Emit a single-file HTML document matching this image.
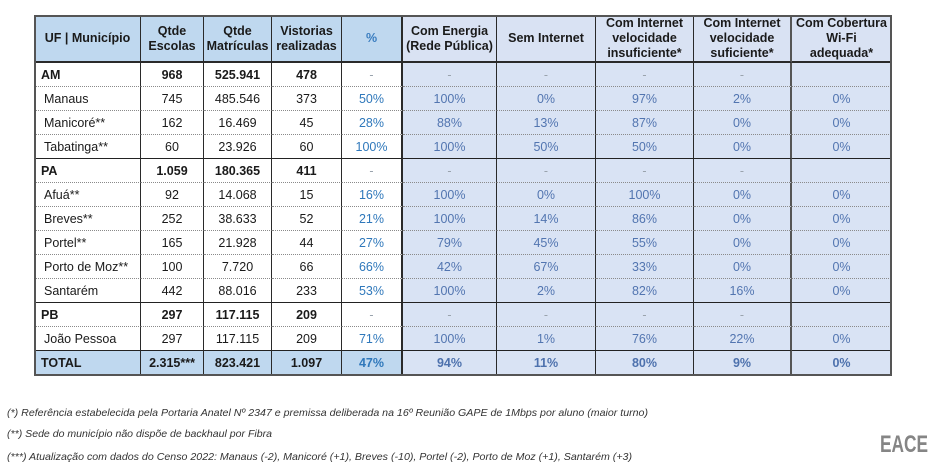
<!DOCTYPE html>
<html><head><meta charset="utf-8">
<style>
html,body{margin:0;padding:0;background:#fff;}
body{width:933px;height:470px;position:relative;overflow:hidden;font-family:"Liberation Sans",Arial,sans-serif;}
.g{position:absolute;left:35px;top:16px;display:grid;
grid-template-columns:106px 63px 68px 70px 61px 94px 99px 98px 98px 99px;
grid-template-rows:47px repeat(13,24px);}
.g>div{box-sizing:border-box;border-right:1px solid #2a2a2a;border-bottom:1px dotted #8a8a8a;display:flex;align-items:center;justify-content:center;font-size:12.5px;color:#1a1a1a;white-space:nowrap;}
.g>div.h{border-bottom:2px solid #2a2a2a;font-weight:bold;text-align:center;line-height:15px;white-space:normal;font-size:12.5px;}
.hl{background:#bfd8ef;}
.hr{background:#d9e2f3;}
.r{background:#d9e3f4;color:#5275b0 !important;}
.p{color:#2f78bb !important;}
.d{color:#9aa3ad !important;}
.l{justify-content:flex-start !important;padding-left:9px;}
.l0{justify-content:flex-start !important;padding-left:6px;}
.b{font-weight:bold;}
.s{border-bottom:1px solid #222 !important;}
.t{background:#bfd8ef;font-weight:bold;border-bottom:none !important;}
.tr{background:#d9e3f4;font-weight:bold;color:#4d71ad !important;border-bottom:none !important;}
.c5{border-right:2px solid #2a2a2a !important;}
.c9{border-right:2px solid #555 !important;}
.c10{border-right:none !important;}
.frame{position:absolute;left:34px;top:15px;width:854px;height:357px;border:2px solid #555;}
</style></head><body>
<div class="g">
<div class="h hl">UF | Município</div>
<div class="h hl">Qtde<br>Escolas</div>
<div class="h hl">Qtde<br>Matrículas</div>
<div class="h hl">Vistorias<br>realizadas</div>
<div class="h hl c5" style="color:#3a7dc0">%</div>
<div class="h hr">Com Energia<br>(Rede Pública)</div>
<div class="h hr">Sem Internet</div>
<div class="h hr">Com Internet<br>velocidade<br>insuficiente*</div>
<div class="h hr c9">Com Internet<br>velocidade<br>suficiente*</div>
<div class="h hr c10">Com Cobertura<br>Wi-Fi<br>adequada*</div>

<div class="l0 b">AM</div><div class="b">968</div><div class="b">525.941</div><div class="b">478</div><div class="d c5">-</div><div class="r d">-</div><div class="r d">-</div><div class="r d">-</div><div class="r d c9">-</div><div class="r c10"></div>

<div class="l">Manaus</div><div>745</div><div>485.546</div><div>373</div><div class="p c5">50%</div><div class="r">100%</div><div class="r">0%</div><div class="r">97%</div><div class="r c9">2%</div><div class="r c10">0%</div>

<div class="l">Manicoré**</div><div>162</div><div>16.469</div><div>45</div><div class="p c5">28%</div><div class="r">88%</div><div class="r">13%</div><div class="r">87%</div><div class="r c9">0%</div><div class="r c10">0%</div>

<div class="l s">Tabatinga**</div><div class="s">60</div><div class="s">23.926</div><div class="s">60</div><div class="p c5 s">100%</div><div class="r s">100%</div><div class="r s">50%</div><div class="r s">50%</div><div class="r c9 s">0%</div><div class="r c10 s">0%</div>

<div class="l0 b">PA</div><div class="b">1.059</div><div class="b">180.365</div><div class="b">411</div><div class="d c5">-</div><div class="r d">-</div><div class="r d">-</div><div class="r d">-</div><div class="r d c9">-</div><div class="r c10"></div>

<div class="l">Afuá**</div><div>92</div><div>14.068</div><div>15</div><div class="p c5">16%</div><div class="r">100%</div><div class="r">0%</div><div class="r">100%</div><div class="r c9">0%</div><div class="r c10">0%</div>

<div class="l">Breves**</div><div>252</div><div>38.633</div><div>52</div><div class="p c5">21%</div><div class="r">100%</div><div class="r">14%</div><div class="r">86%</div><div class="r c9">0%</div><div class="r c10">0%</div>

<div class="l">Portel**</div><div>165</div><div>21.928</div><div>44</div><div class="p c5">27%</div><div class="r">79%</div><div class="r">45%</div><div class="r">55%</div><div class="r c9">0%</div><div class="r c10">0%</div>

<div class="l">Porto de Moz**</div><div>100</div><div>7.720</div><div>66</div><div class="p c5">66%</div><div class="r">42%</div><div class="r">67%</div><div class="r">33%</div><div class="r c9">0%</div><div class="r c10">0%</div>

<div class="l s">Santarém</div><div class="s">442</div><div class="s">88.016</div><div class="s">233</div><div class="p c5 s">53%</div><div class="r s">100%</div><div class="r s">2%</div><div class="r s">82%</div><div class="r c9 s">16%</div><div class="r c10 s">0%</div>

<div class="l0 b">PB</div><div class="b">297</div><div class="b">117.115</div><div class="b">209</div><div class="d c5">-</div><div class="r d">-</div><div class="r d">-</div><div class="r d">-</div><div class="r d c9">-</div><div class="r c10"></div>

<div class="l s">João Pessoa</div><div class="s">297</div><div class="s">117.115</div><div class="s">209</div><div class="p c5 s">71%</div><div class="r s">100%</div><div class="r s">1%</div><div class="r s">76%</div><div class="r c9 s">22%</div><div class="r c10 s">0%</div>

<div class="t l0">TOTAL</div><div class="t">2.315***</div><div class="t">823.421</div><div class="t">1.097</div><div class="t p c5">47%</div><div class="tr">94%</div><div class="tr">11%</div><div class="tr">80%</div><div class="tr c9">9%</div><div class="tr c10">0%</div>
</div>
<div class="frame"></div>

<svg style="position:absolute;left:0;top:0" width="933" height="470" xmlns="http://www.w3.org/2000/svg">
<g font-family="Liberation Sans, Arial, sans-serif" font-style="italic" font-size="10.5" fill="#333">
<text x="7" y="416" textLength="641" lengthAdjust="spacingAndGlyphs">(*) Referência estabelecida pela Portaria Anatel Nº 2347 e premissa deliberada na 16º Reunião GAPE de 1Mbps por aluno (maior turno)</text>
<text x="7" y="437" textLength="265" lengthAdjust="spacingAndGlyphs">(**) Sede do município não dispõe de backhaul por Fibra</text>
<text x="7" y="460" textLength="625" lengthAdjust="spacingAndGlyphs">(***) Atualização com dados do Censo 2022: Manaus (-2), Manicoré (+1), Breves (-10), Portel (-2), Porto de Moz (+1), Santarém (+3)</text>
</g>
<text x="880" y="452" font-family="Liberation Sans, Arial, sans-serif" font-weight="bold" font-size="24" fill="#858585" textLength="48" lengthAdjust="spacingAndGlyphs">EACE</text>
</svg>
</body></html>
